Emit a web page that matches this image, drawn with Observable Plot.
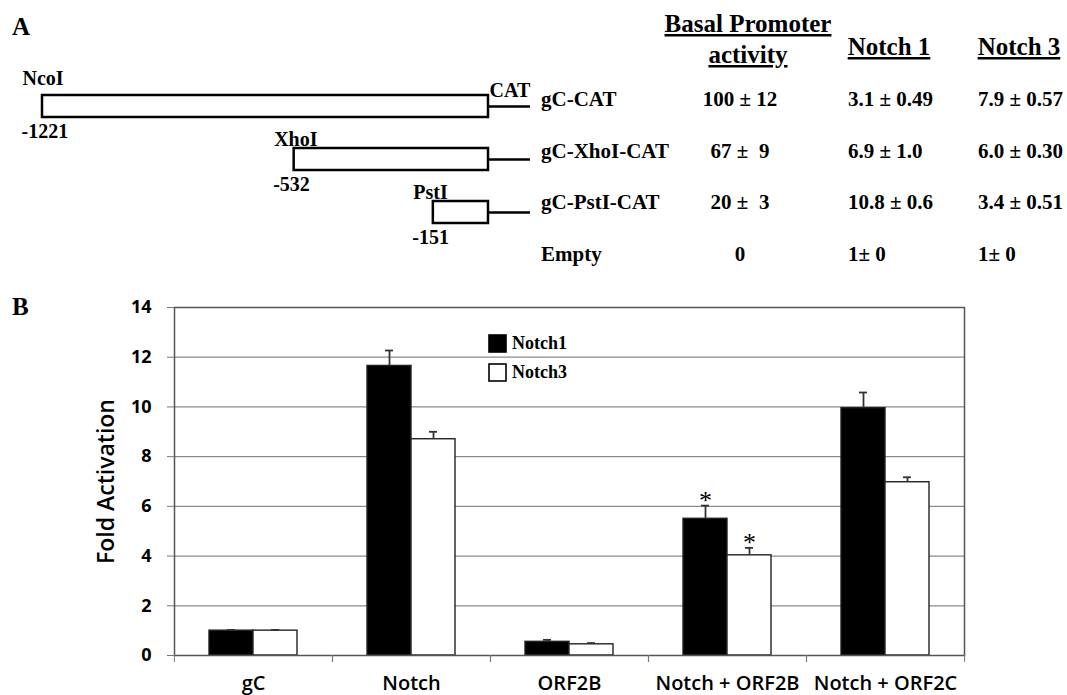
<!DOCTYPE html>
<html><head><meta charset="utf-8">
<script src="https://cdn.jsdelivr.net/npm/d3@7"></script>
<script src="https://cdn.jsdelivr.net/npm/@observablehq/plot@0.6"></script>
<style>
body{margin:0;background:#fff;}
#fig{position:relative;width:1067px;height:695px;overflow:hidden;background:#fff;}
.abs{position:absolute;}
.plab{position:absolute;font:bold 25px "Liberation Serif","Times New Roman",serif;line-height:1;color:#000;}
#legend{position:absolute;left:489px;top:329px;}
#legend, #legend *{font:bold 18px "Liberation Serif","Times New Roman",serif !important;color:#000 !important;}
#legend [class$="-swatch"]{height:29px !important;margin:0 !important;padding:0 !important;display:flex !important;align-items:center !important;}
#legend svg{margin-right:6px !important;overflow:visible !important;}
#legend svg rect{stroke:#000;stroke-width:1.6px;}
#plotB g[aria-label="y-axis label"], #plotB g[aria-label="y-axis label"] text{font-size:23px !important;font-weight:600 !important;}
</style></head><body><div id="fig"></div>
<script>
// ---------- Panel A data ----------
const constructs = ["gC-CAT", "gC-XhoI-CAT", "gC-PstI-CAT"];
const siteNames = ["NcoI", "XhoI", "PstI"];
const siteStarts = [-1221, -532, -151];
const catLength = 115;
const tableRows = ["gC-CAT", "gC-XhoI-CAT", "gC-PstI-CAT", "Empty"];
const basalText = ["100 ± 12", "67 ±  9", "20 ±  3", "0"];
const notch1Text = ["3.1 ± 0.49", "6.9 ± 1.0", "10.8 ± 0.6", "1± 0"];
const notch3Text = ["7.9 ± 0.57", "6.0 ± 0.30", "3.4 ± 0.51", "1± 0"];
const headerBasal = ["Basal Promoter", "activity"];
const headerNotch1 = "Notch 1";
const headerNotch3 = "Notch 3";

// ---------- Panel B data ----------
const categories = ["gC", "Notch", "ORF2B", "Notch + ORF2B", "Notch + ORF2C"];
const seriesNames = ["Notch1", "Notch3"];
const seriesColors = ["#000000", "#ffffff"];
const notch1 = [1.0, 11.65, 0.55, 5.5, 9.95];
const notch1Err = [0.03, 0.62, 0.08, 0.53, 0.63];
const notch3 = [1.0, 8.7, 0.45, 4.03, 6.97];
const notch3Err = [0.03, 0.3, 0.05, 0.3, 0.2];
const notch1Sig = [false, false, false, true, false];
const notch3Sig = [false, false, false, true, false];
const yTicks = [0, 2, 4, 6, 8, 10, 12, 14];

const serif = "'Liberation Serif','Times New Roman',serif";
const sans = "'Open Sans', sans-serif";
const fig = document.getElementById("fig");

// ---------- Panel A: construct diagram ----------
const diag = constructs.map((name, i) => ({name, site: siteNames[i], start: siteStarts[i]}));
const plotA = Plot.plot({
  width: 540, height: 285,
  marginLeft: 42, marginRight: 10, marginTop: 79, marginBottom: 45,
  x: {domain: [d3.min(siteStarts), catLength], axis: null},
  y: {domain: constructs, axis: null, paddingInner: 0.583, paddingOuter: 0.2915},
  style: {fontFamily: serif, fontWeight: "bold", overflow: "visible", background: "transparent"},
  marks: [
    Plot.ruleY(diag, {y: "name", x1: () => 0, x2: () => catLength, stroke: "#000", strokeWidth: 2.5}),
    Plot.barX(diag, {y: "name", x1: "start", x2: () => 0, fill: "#fff", stroke: "#000", strokeWidth: 2.5}),
    Plot.text(diag.slice(0, 1), {x: "start", y: "name", text: "site", textAnchor: "start", lineAnchor: "bottom", dx: -20, dy: -22, fontSize: 20, fill: "#000"}),
    Plot.text(diag.slice(1), {x: "start", y: "name", text: "site", textAnchor: "start", lineAnchor: "bottom", dx: -20, dy: -14, fontSize: 20, fill: "#000"}),
    Plot.text(diag, {x: "start", y: "name", text: d => `${d.start}`, textAnchor: "start", lineAnchor: "bottom", dx: -21, dy: 31, fontSize: 20, fill: "#000"}),
    Plot.text(diag.slice(0, 1), {x: () => 0, y: "name", text: () => "CAT", textAnchor: "start", lineAnchor: "bottom", dx: 1, dy: -10, fontSize: 20, fill: "#000"})
  ]
});
plotA.classList.add("abs");
plotA.style.left = "0px"; plotA.style.top = "0px";
fig.appendChild(plotA);

// ---------- Panel A: table ----------
const tbl = d3.create("svg").attr("class", "abs").attr("width", 1067).attr("height", 285)
  .style("left", "0px").style("top", "0px")
  .attr("font-family", serif).attr("font-weight", "bold").attr("fill", "#000");
const rowY = i => 106 + i * 51.5;
const hdr = (txt, x, y) => tbl.append("text").attr("x", x).attr("y", y).attr("text-anchor", "middle")
  .attr("font-size", 25).attr("text-decoration", "underline").style("white-space", "pre").text(txt);
hdr(headerBasal[0], 748, 32);
hdr(headerBasal[1], 748, 63);
hdr(headerNotch1, 889, 55);
hdr(headerNotch3, 1019, 55);
const col = (arr, x, anchor) => arr.forEach((t, i) => tbl.append("text").attr("x", x).attr("y", rowY(i))
  .attr("text-anchor", anchor).attr("font-size", 21).style("white-space", "pre").text(t));
col(tableRows, 541, "start");
col(basalText, 740, "middle");
col(notch1Text, 848, "start");
col(notch3Text, 978, "start");
fig.appendChild(tbl.node());

// ---------- Panel B: grouped bars ----------
const rows = [];
categories.forEach((c, i) => {
  rows.push({cat: c, series: seriesNames[0], value: notch1[i], err: notch1Err[i], sig: notch1Sig[i]});
  rows.push({cat: c, series: seriesNames[1], value: notch3[i], err: notch3Err[i], sig: notch3Sig[i]});
});
const halfBand = (1067 - 173 - 103) / categories.length / 2;
const plotB = Plot.plot({
  width: 1067, height: 410,
  marginLeft: 173, marginRight: 103, marginTop: 22, marginBottom: 40,
  fx: {domain: categories, padding: 0, label: null, axis: null},
  x: {domain: seriesNames, axis: null, paddingInner: 0, paddingOuter: 0.78},
  y: {domain: [0, 14], axis: null},
  color: {domain: seriesNames, range: seriesColors},
  style: {fontFamily: sans, overflow: "visible", background: "transparent", color: "#000"},
  marks: [
    Plot.ruleY(yTicks.filter(t => t > 0 && t < 14), {stroke: "#8a8a8a", strokeWidth: 1.3}),
    Plot.barY(rows, {fx: "cat", x: "series", y: "value", fill: "series", stroke: "#222", strokeWidth: 1.4, inset: 0}),
    Plot.ruleX(rows, {fx: "cat", x: "series", y1: "value", y2: d => d.value + d.err, stroke: "#333", strokeWidth: 1.8}),
    Plot.tickY(rows, {fx: "cat", x: "series", y: d => d.value + d.err, stroke: "#333", strokeWidth: 1.8, insetLeft: 18, insetRight: 18}),
    Plot.text(rows.filter(d => d.sig), {fx: "cat", x: "series", y: d => d.value + d.err, text: () => "*", dy: -5, fontSize: 26, fontFamily: serif, fill: "#000"}),
    Plot.frame({facet: "super", stroke: "#555", strokeWidth: 1.5}),
    Plot.axisY({ticks: yTicks, tickSize: 7, text: null, stroke: "#777",
      label: "Fold Activation", labelAnchor: "center", labelArrow: "none", labelOffset: 77}),
    Plot.text(yTicks, {fx: () => categories[0], y: d => d, text: d => `${d}`, frameAnchor: "left", textAnchor: "end", dx: -23,
      fontSize: 18, fontWeight: 700, fontFamily: sans, fill: "#000"}),
    Plot.axisFx({anchor: "bottom", tickSize: 0, tickPadding: 20, fontSize: 20, fontWeight: 600, label: null}),
    Plot.axisFx({anchor: "bottom", tickSize: 7, text: null, label: null, dx: -halfBand, stroke: "#777"}),
    Plot.axisFx({anchor: "bottom", tickSize: 7, text: null, label: null, dx: halfBand, stroke: "#777"})
  ]
});
plotB.classList.add("abs");
plotB.id = "plotB";
plotB.style.left = "0px"; plotB.style.top = "285px";
fig.appendChild(plotB);

// ---------- Legend ----------
const leg = plotB.legend("color", {legend: "swatches", columns: 1, swatchSize: 17, className: "lgd"});
const legDiv = document.createElement("div");
legDiv.id = "legend";
legDiv.appendChild(leg);
fig.appendChild(legDiv);

// ---------- Panel letters ----------
[["A", 14], ["B", 294]].forEach(([t, top]) => {
  const d = document.createElement("div");
  d.className = "plab"; d.textContent = t; d.style.left = "12px"; d.style.top = top + "px";
  fig.appendChild(d);
});
</script></body></html>
